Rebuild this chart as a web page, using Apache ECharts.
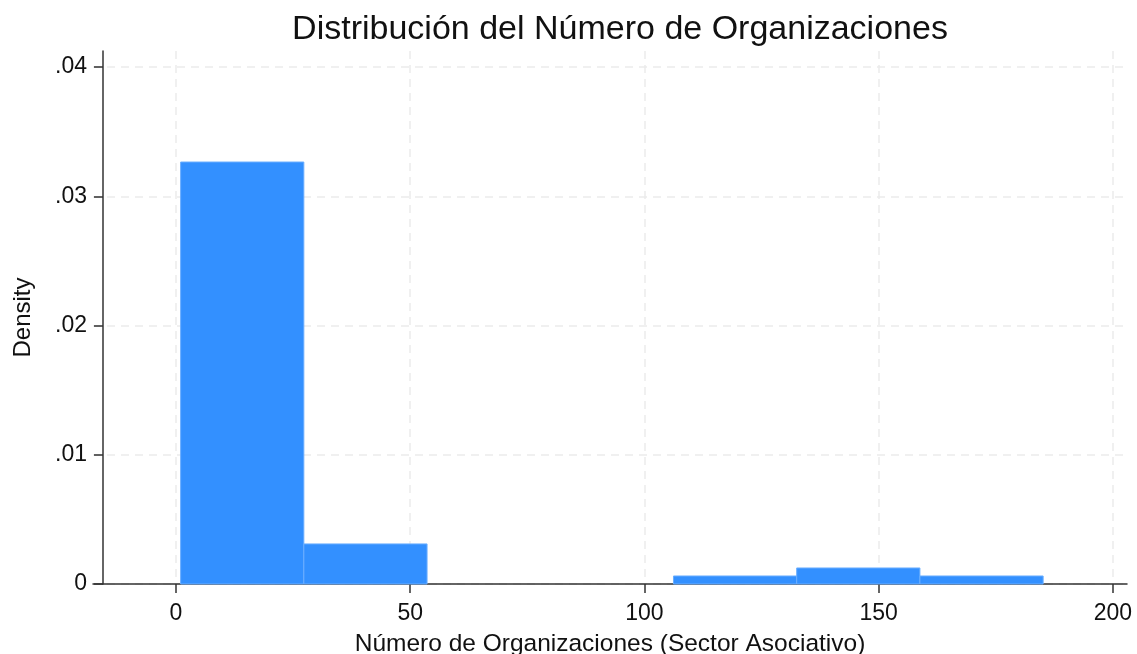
<!DOCTYPE html>
<html style="height:100%">
<head>
<meta charset="utf-8">
<script src="https://cdn.jsdelivr.net/npm/echarts@6/dist/echarts.min.js"></script>
</head>
<body style="height:100%; margin:0">
<div id="container" style="width:1137px; height:654px"></div>
<script type="text/javascript">
// histogram bins (lower edge, upper edge) and density
var binStart = [1, 27.3, 53.6, 79.9, 106.2, 132.5, 158.8];
var binEnd = [27.3, 53.6, 79.9, 106.2, 132.5, 158.8, 185.1];
var density = [0.03265, 0.0031, 0, 0, 0.00062, 0.00124, 0.00062];
var xTicks = [0, 50, 100, 150, 200];
var yTicks = [0, 0.01, 0.02, 0.03, 0.04];

var data = [];
for (var i = 0; i < binStart.length; i++) {
    if (density[i] > 0) data.push([binStart[i], binEnd[i], density[i]]);
}

var chart = echarts.init(document.getElementById('container'));
var axisColor = '#333';
var font = 'Liberation Sans';
var gridLine = { show: true, lineStyle: { color: '#ebebeb', type: [8, 6], width: 1.5 } };

chart.setOption({
    animation: false,
    title: {
        text: 'Distribución del Número de Organizaciones',
        left: 615, textAlign: 'center', top: 8,
        textStyle: { fontFamily: font, fontWeight: 'normal', fontSize: 34, color: '#111' }
    },
    grid: { left: 93, right: 10, top: 51, bottom: 70, outerBoundsMode: 'none', containLabel: false },
    xAxis: {
        type: 'value', min: -17.7, max: 203,
        name: 'Número de Organizaciones (Sector Asociativo)',
        nameLocation: 'middle', nameGap: 48,
        nameTextStyle: { fontFamily: font, fontSize: 24.5, color: '#111' },
        axisLine: { show: true, onZero: false, lineStyle: { color: axisColor, width: 1.5 } },
        axisTick: { show: true, customValues: xTicks, length: 9, lineStyle: { color: axisColor, width: 1.5 } },
        axisLabel: { customValues: xTicks, margin: 18, fontFamily: font, fontSize: 23, color: '#111' },
        splitLine: gridLine
    },
    yAxis: {
        type: 'value', min: 0, max: 0.04124, offset: -10,
        name: 'Density', nameLocation: 'middle', nameGap: 68,
        nameTextStyle: { fontFamily: font, fontSize: 24, color: '#111' },
        axisLine: { show: true, onZero: false, lineStyle: { color: axisColor, width: 1.5 } },
        axisTick: { show: true, customValues: yTicks, length: 9, lineStyle: { color: axisColor, width: 1.5 } },
        axisLabel: {
            customValues: yTicks, margin: 16, fontFamily: font, fontSize: 23, color: '#111',
            formatter: function (v) { return v === 0 ? '0' : String(+v.toFixed(2)).replace(/^0/, ''); }
        },
        splitLine: gridLine
    },
    series: [{
        type: 'custom',
        data: data,
        encode: { x: [0, 1], y: 2 },
        renderItem: function (params, api) {
            var p0 = api.coord([api.value(0), api.value(2)]);
            var p1 = api.coord([api.value(1), 0]);
            return {
                type: 'rect',
                shape: { x: p0[0], y: p0[1], width: p1[0] - p0[0], height: p1[1] - p0[1] },
                style: { fill: '#3390ff', stroke: '#6aaeff', lineWidth: 1 }
            };
        }
    }]
});
</script>
</body>
</html>
